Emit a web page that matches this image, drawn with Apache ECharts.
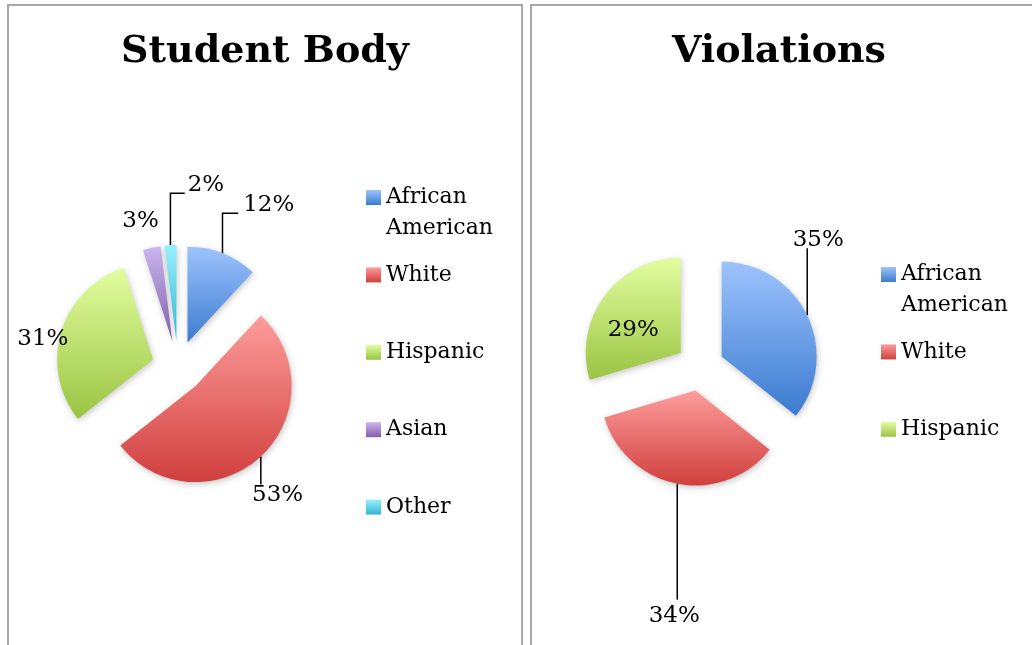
<!DOCTYPE html>
<html>
<head>
<meta charset="utf-8">
<script src="https://cdn.jsdelivr.net/npm/echarts@6/dist/echarts.min.js"></script>
<style>
  html, body { margin: 0; padding: 0; background: #fff; }
  #chart { width: 1032px; height: 645px; }
</style>
</head>
<body>
<div id="chart"></div>
<script>
const studentNames = ['African American', 'White', 'Hispanic', 'Asian', 'Other'];
const studentValues = [12, 53, 31, 3, 2];
const violationNames = ['African American', 'White', 'Hispanic'];
const violationValues = [35, 34, 29];
const chartTitles = ['Student Body', 'Violations'];

const FONT = 'DejaVu Serif';

// top -> bottom fill of every slice (office style gradient)
const fills = {
  'African American': ['#9dc3fd', '#3b7bd0'],
  'White': ['#fd9d9b', '#d03f3d'],
  'Hispanic': ['#e2fd9f', '#9ac443'],
  'Asian': ['#cab5ef', '#7f5fa8'],
  'Other': ['#98effd', '#35b5d2']
};

function grad(name) {
  const c = fills[name];
  return {
    type: 'linear', x: 0, y: 0, x2: 0, y2: 1,
    colorStops: [{ offset: 0, color: c[0] }, { offset: 1, color: c[1] }]
  };
}

// label placement for each slice: leader lengths, alignment, leader shape
const studentLabelCfg = [
  { len: 43, len2: 0, lead: 'up', vAlign: 'bottom' },                           // 12%
  { len: 38, len2: -14, lead: 'vert', align: 'center', vAlign: 'top', pad: [3, 0, 0, 0] }, // 53%
  { len: 2, len2: -14, lead: 'none', vAlign: 'top' },                           // 31%
  { len: 28, len2: 0, lead: 'none', align: 'center' },                          // 3%
  { len: 52, len2: -17.5, lead: 'up', align: 'left', vAlign: 'bottom', pad: [0, 0, 0, 8] } // 2%
];
const violationLabelCfg = [
  { len: 154.5, len2: -133.2, lead: 'vert', align: 'center', vAlign: 'bottom' }, // 35%
  { len: 118, len2: -24.5, lead: 'vert', align: 'center', vAlign: 'top', pad: [8, 0, 0, 0] }, // 34%
  { inside: true, vAlign: 'top', pad: [0, 14, 0, 0] }                            // 29%
];

function buildData(names, values, cfgs) {
  return names.map((name, i) => {
    const cfg = cfgs[i];
    const item = {
      name: name,
      value: values[i],
      selected: true,
      itemStyle: { color: grad(name) }
    };
    if (cfg.inside) {
      item.label = { position: 'inside' };
      item.labelLine = { show: false };
    } else {
      item.labelLine = { show: cfg.lead !== 'none', length: cfg.len, length2: cfg.len2 };
    }
    if (cfg.pad) item.label = Object.assign(item.label || {}, { padding: cfg.pad });
    return item;
  });
}

function leaderLayout(cfgs) {
  return function (params) {
    const cfg = cfgs[params.dataIndex];
    const out = {};
    if (cfg.align) out.align = cfg.align;
    if (cfg.vAlign) out.verticalAlign = cfg.vAlign;
    const pts = params.labelLinePoints;
    if (pts && pts.length > 2) {
      const p0 = pts[0], p2 = pts[2];
      if (cfg.lead === 'up') {
        out.labelLinePoints = [p0, [p0[0], p2[1]], [p2[0], p2[1]]];
      } else if (cfg.lead === 'vert') {
        out.labelLinePoints = [p0, [p0[0], p2[1]], [p0[0], p2[1]]];
      }
    }
    return out;
  };
}

function pieSeries(name, center, radius, offset, data, cfgs) {
  return {
    name: name,
    type: 'pie',
    center: center,
    radius: radius,
    startAngle: 90,
    clockwise: true,
    selectedMode: 'multiple',
    selectedOffset: offset,
    avoidLabelOverlap: false,
    emphasis: { disabled: true },
    itemStyle: {
      shadowBlur: 6,
      shadowColor: 'rgba(0,0,0,0.22)',
      shadowOffsetX: 1,
      shadowOffsetY: 2
    },
    label: {
      show: true,
      position: 'outside',
      formatter: '{c}%',
      color: '#000',
      fontFamily: FONT,
      fontSize: 23,
      lineHeight: 16
    },
    labelLine: {
      lineStyle: { color: '#000', width: 1.5 }
    },
    labelLayout: leaderLayout(cfgs),
    data: data
  };
}

// every legend entry is two text lines tall so the entries space evenly,
// the icon sits on the first line
function legendCfg(names, left, top) {
  return {
    orient: 'vertical',
    left: left,
    top: top,
    padding: 0,
    itemGap: 24.4,
    itemWidth: 15,
    itemHeight: 15,
    icon: 'rect',
    selectedMode: false,
    formatter: n => {
      const words = n.split(' ');
      if (words.length < 2) words.push(' ');
      return words.map(w => '{t|' + w + '}').join('\n');
    },
    textStyle: {
      padding: [31, 0, 0, 0],
      rich: {
        t: { fontFamily: FONT, fontSize: 22, lineHeight: 31, color: '#000' }
      }
    },
    data: names
  };
}

const chart = echarts.init(document.getElementById('chart'));

chart.setOption({
  animation: false,
  backgroundColor: '#fff',
  graphic: [
    { type: 'rect', shape: { x: 8, y: 5, width: 514, height: 700 },
      style: { fill: 'none', stroke: '#a8a8a8', lineWidth: 2 } },
    { type: 'rect', shape: { x: 531, y: 5, width: 600, height: 700 },
      style: { fill: 'none', stroke: '#a8a8a8', lineWidth: 2 } },
    { type: 'text', x: 265, y: 52,
      style: { text: chartTitles[0], align: 'center', verticalAlign: 'middle',
        fontFamily: FONT, fontWeight: 'bold', fontSize: 38, fill: '#000' } },
    { type: 'text', x: 779, y: 52,
      style: { text: chartTitles[1], align: 'center', verticalAlign: 'middle',
        fontFamily: FONT, fontWeight: 'bold', fontSize: 38, fill: '#000' } }
  ],
  legend: [
    legendCfg(studentNames, 366, 186.5),
    legendCfg(violationNames, 881, 263.5)
  ],
  series: [
    pieSeries('Student Body', [178, 367], 96, 26,
      buildData(studentNames, studentValues, studentLabelCfg), studentLabelCfg),
    pieSeries('Violations', [700, 367], 95, 24,
      buildData(violationNames, violationValues, violationLabelCfg), violationLabelCfg)
  ]
});

window.addEventListener('resize', () => chart.resize());
</script>
</body>
</html>
